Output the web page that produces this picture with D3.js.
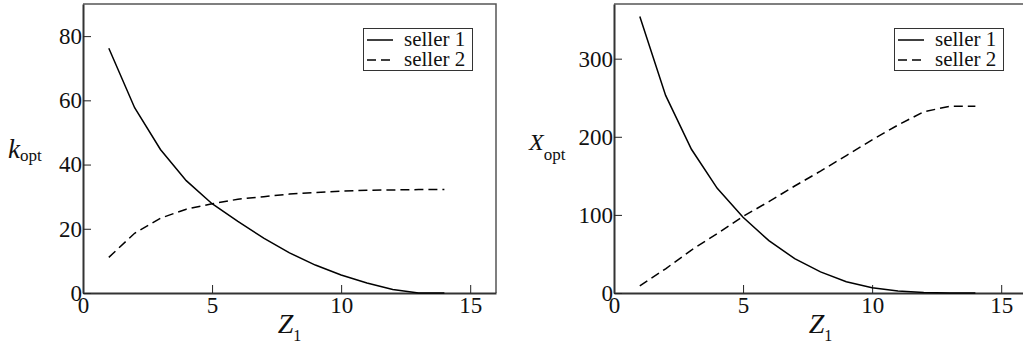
<!DOCTYPE html>
<html>
<head>
<meta charset="utf-8">
<script src="https://cdnjs.cloudflare.com/ajax/libs/d3/7.8.5/d3.min.js"></script>
<style>
  body { margin: 0; background: #fff; }
  svg { display: block; }
</style>
</head>
<body>
<div id="chart"></div>
<script>
// data
const zValues = [1, 2, 3, 4, 5, 6, 7, 8, 9, 10, 11, 12, 13, 14];
const kSeller1 = [76.2, 57.7, 44.7, 35.0, 27.8, 22.3, 17.1, 12.5, 8.7, 5.6, 3.1, 1.1, 0, 0];
const kSeller2 = [11.1, 18.6, 23.3, 26.1, 27.8, 29.2, 30.0, 30.8, 31.3, 31.7, 32.0, 32.1, 32.2, 32.2];
const xSeller1 = [354, 253, 184, 134, 97, 67, 44, 27, 14.5, 6.8, 2.6, 0.5, 0, 0];
const xSeller2 = [9, 31, 55, 76, 98, 117, 137, 156, 176, 196, 215, 232, 239, 239];
const zTicks = [0, 5, 10, 15];
const kTicks = [0, 20, 40, 60, 80];
const xoptTicks = [0, 100, 200, 300];
const legendLabels = ['seller 1', 'seller 2'];

// dimensions
const w = 1023;
const h = 345;
const panelW = 413;
const plotTop = 4;
const plotBottom = 293;

// pick the first serif face that is really installed
const pickSerif = () => {
  const ctx = document.createElement('canvas').getContext('2d');
  const probe = 'mmmmmmmmmmlliWWQ0123456789';
  const widthOf = f => { ctx.font = '40px ' + f; return ctx.measureText(probe).width; };
  const candidates = ['Liberation Serif', 'Times New Roman', 'DejaVu Serif', 'Noto Serif', 'FreeSerif', 'Nimbus Roman', 'Tinos'];
  const found = candidates.find(c =>
    widthOf('"' + c + '", monospace') !== widthOf('monospace') ||
    widthOf('"' + c + '", sans-serif') !== widthOf('sans-serif'));
  return found ? '"' + found + '", serif' : 'serif';
};
const serif = pickSerif();

const svg = d3.select('#chart').append('svg')
  .attr('width', w)
  .attr('height', h)
  .attr('font-family', serif);

const drawPanel = (opt) => {
  const g = svg.append('g');
  const xScale = d3.scaleLinear()
    .domain([0, 16])
    .range([opt.left, opt.left + panelW]);
  const yScale = d3.scaleLinear()
    .domain([0, opt.yMax])
    .range([plotBottom, plotTop]);

  // top and right frame lines
  g.append('path')
    .attr('d', `M${opt.left},${plotTop}H${opt.left + panelW}V${plotBottom}`)
    .attr('fill', 'none')
    .attr('stroke', '#555')
    .attr('stroke-width', 1.5);

  // axes with inward ticks
  const xAxis = d3.axisBottom(xScale)
    .tickValues(zTicks)
    .tickSizeInner(-8)
    .tickSizeOuter(0)
    .tickPadding(4);
  const gx = g.append('g')
    .attr('transform', 'translate(0,' + plotBottom + ')')
    .call(xAxis);
  const yAxis = d3.axisLeft(yScale)
    .tickValues(opt.ticks)
    .tickSizeInner(-8)
    .tickSizeOuter(0)
    .tickPadding(1);
  const gy = g.append('g')
    .attr('transform', 'translate(' + opt.left + ',0)')
    .call(yAxis);
  [gx, gy].forEach(a => {
    a.attr('font-family', serif).attr('font-size', 23);
    a.selectAll('text').attr('fill', '#111');
    a.selectAll('.tick line').attr('stroke', '#222');
    a.select('.domain').attr('stroke', '#333').attr('stroke-width', 2);
  });

  // curves
  const line = d3.line()
    .x((d, i) => xScale(zValues[i]))
    .y(d => yScale(d));
  g.append('path')
    .datum(opt.s1)
    .attr('d', line)
    .attr('fill', 'none')
    .attr('stroke', '#000')
    .attr('stroke-width', 1.5);
  g.append('path')
    .datum(opt.s2)
    .attr('d', line)
    .attr('fill', 'none')
    .attr('stroke', '#000')
    .attr('stroke-width', 1.5)
    .attr('stroke-dasharray', '9,5');

  // legend
  const lx = opt.left + panelW - 133;
  const legend = g.append('g').attr('transform', 'translate(' + lx + ',28)');
  legend.append('rect')
    .attr('x', 0.5)
    .attr('y', 0.5)
    .attr('width', 109)
    .attr('height', 42)
    .attr('fill', '#fff')
    .attr('stroke', '#333');
  legendLabels.forEach((lab, i) => {
    legend.append('line')
      .attr('x1', 4)
      .attr('x2', 30)
      .attr('y1', 12 + i * 20)
      .attr('y2', 12 + i * 20)
      .attr('stroke', '#000')
      .attr('stroke-width', 1.5)
      .attr('stroke-dasharray', i === 0 ? null : '9,5');
    legend.append('text')
      .attr('x', 41)
      .attr('y', 18 + i * 19.5)
      .attr('font-size', 21)
      .attr('fill', '#111')
      .text(lab);
  });

  // x axis title Z_1
  const zt = g.append('text')
    .attr('x', opt.left + panelW / 2)
    .attr('y', 333)
    .attr('text-anchor', 'middle')
    .attr('fill', '#111');
  zt.append('tspan').attr('font-style', 'italic').attr('font-size', 28).text('Z');
  zt.append('tspan').attr('font-size', 16).attr('dy', 8).text('1');

  // y axis title
  const yt = g.append('text')
    .attr('x', opt.titleX)
    .attr('y', opt.titleY)
    .attr('fill', '#111');
  yt.append('tspan').attr('font-style', 'italic').attr('font-size', opt.titleSize).text(opt.title);
  yt.append('tspan').attr('font-size', 17).attr('dy', opt.subDy).text('opt');
};

drawPanel({
  left: 83, yMax: 90, ticks: kTicks, s1: kSeller1, s2: kSeller2,
  title: 'k', titleX: 8, titleY: 158, titleSize: 27, subDy: 3
});
drawPanel({
  left: 614, yMax: 370, ticks: xoptTicks, s1: xSeller1, s2: xSeller2,
  title: 'X', titleX: 529, titleY: 150, titleSize: 24, subDy: 10
});
</script>
</body>
</html>
